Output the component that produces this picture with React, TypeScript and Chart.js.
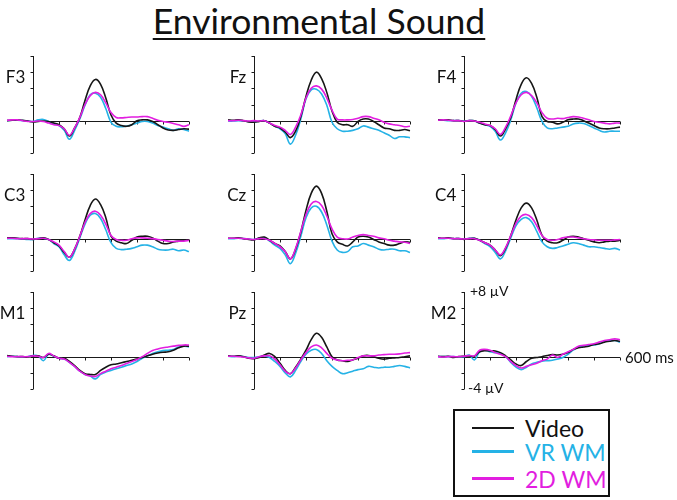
import React, { useEffect, useRef } from "react";
import { Chart, registerables } from "chart.js";

Chart.register(...registerables);

// ---------- data ----------
const TIMES_MS = [-100, -80, -60, -40, -20, 0, 20, 40, 60, 80, 100, 120, 140, 160, 180, 200, 220, 240, 260, 280, 300, 320, 340, 360, 380, 400, 420, 440, 460, 480, 500, 520, 540, 560, 580, 600];
const Y_TICKS_UV = [-4, -2, 0, 2, 4, 6, 8];
const X_TICKS_MS = [100, 200, 300, 400, 500, 600];
const SERIES_NAMES = ["Video", "VR WM", "2D WM"];
const ELECTRODES = ["F3", "Fz", "F4", "C3", "Cz", "C4", "M1", "Pz", "M2"];

const F3_VIDEO = [0, 0.05, 0.1, 0.05, -0.05, -0.15, -0.1, -0.05, -0.1, -0.3, -0.5, -1.0, -1.9, -0.9, 0.4, 2.5, 4.3, 5.1, 4.5, 2.8, 0.7, -0.3, -0.6, -0.7, -0.5, 0.0, 0.1, 0.1, -0.1, -0.5, -0.9, -1.15, -1.2, -1.1, -1.0, -1.05];
const F3_VR = [0, 0.05, 0.05, 0, -0.05, -0.1, 0.1, 0.15, -0.1, -0.4, -0.6, -1.2, -2.3, -1.2, 0.2, 1.9, 3.2, 3.4, 2.9, 1.5, -0.2, -0.7, -0.75, -0.65, -0.5, -0.3, -0.1, -0.1, -0.3, -0.6, -0.8, -1.0, -1.2, -1.0, -1.1, -1.3];
const F3_2D = [0.05, 0.1, 0.1, 0, -0.1, -0.1, -0.05, -0.1, -0.3, -0.5, -0.6, -1.0, -1.8, -0.9, 0.4, 2.0, 3.1, 3.5, 3.2, 2.2, 1.0, 0.4, 0.35, 0.4, 0.45, 0.45, 0.5, 0.5, 0.3, 0.05, -0.1, -0.2, -0.35, -0.5, -0.7, -0.5];

const FZ_VIDEO = [0.1, 0.05, 0.1, 0, -0.15, -0.2, -0.1, 0, -0.3, -0.7, -0.9, -1.4, -2.1, -1.3, 0.5, 3.0, 5.0, 6.0, 5.2, 3.5, 1.2, -0.2, -0.5, -0.5, -0.7, -0.1, 0.2, 0.2, -0.1, -0.5, -0.9, -1.0, -1.2, -1.2, -1.1, -1.25];
const FZ_VR = [-0.05, -0.05, 0, -0.05, -0.1, -0.15, -0.05, 0, -0.3, -0.7, -1.0, -1.6, -2.9, -1.8, 0.2, 2.7, 3.8, 3.9, 3.3, 1.9, -0.2, -1.0, -1.3, -1.3, -1.2, -1.0, -0.65, -0.8, -1.0, -1.2, -1.5, -1.8, -2.2, -2.0, -2.0, -2.1];
const FZ_2D = [0, 0, 0.05, 0, -0.05, 0, -0.05, 0, -0.3, -0.6, -0.8, -1.2, -1.7, -0.8, 0.7, 2.8, 4.0, 4.3, 3.9, 2.8, 1.3, 0.2, 0.1, 0.1, 0.15, 0.3, 0.5, 0.5, 0.3, 0.1, -0.2, -0.4, -0.5, -0.6, -0.75, -0.7];

const F4_VIDEO = [0.1, 0.1, 0.1, 0, 0, -0.1, 0, 0, -0.3, -0.5, -0.6, -1.1, -1.9, -1.0, 0.4, 2.6, 4.5, 5.3, 4.6, 2.9, 0.5, -0.1, -0.2, -0.4, -0.2, 0.1, 0.2, 0.2, 0.0, -0.3, -0.6, -0.9, -1.0, -1.0, -0.9, -0.8];
const F4_VR = [0.05, 0.05, 0, 0, 0, -0.05, 0, 0, -0.3, -0.5, -0.7, -1.3, -2.4, -1.5, 0.1, 2.2, 3.4, 3.6, 3.0, 1.6, -0.1, -0.9, -1.0, -0.9, -0.8, -0.7, -0.4, -0.3, -0.35, -0.6, -0.9, -1.2, -1.4, -1.3, -1.3, -1.3];
const F4_2D = [0.05, 0.1, 0.05, 0, 0, -0.1, 0, -0.05, -0.2, -0.4, -0.6, -1.0, -1.7, -0.8, 0.6, 2.2, 3.2, 3.5, 3.1, 2.2, 1.0, 0.3, 0.2, 0.3, 0.25, 0.4, 0.5, 0.45, 0.3, 0.1, -0.1, -0.2, -0.3, -0.4, -0.3, -0.3];

const C3_VIDEO = [0.1, 0.1, 0.05, 0, 0, -0.1, 0, 0.1, -0.1, -0.5, -0.9, -1.7, -2.3, -1.3, 0.3, 2.3, 4.1, 4.9, 4.2, 2.6, 0.3, -0.3, -0.5, -0.6, -0.2, 0.2, 0.3, 0.3, 0.1, -0.3, -0.6, -0.6, -0.4, -0.3, -0.2, -0.15];
const C3_VR = [0, 0, 0, -0.05, -0.1, -0.1, 0.05, 0.05, -0.1, -0.6, -1.0, -2.0, -2.7, -1.6, 0.1, 1.8, 2.9, 3.1, 2.5, 1.1, -0.5, -1.2, -1.35, -1.3, -1.2, -1.0, -0.8, -0.8, -1.0, -1.3, -1.4, -1.4, -1.3, -1.5, -1.4, -1.6];
const C3_2D = [0.05, 0.05, 0, 0, 0, -0.05, 0, 0.05, -0.1, -0.4, -0.8, -1.6, -2.3, -1.3, 0.3, 2.0, 3.1, 3.4, 2.9, 1.8, 0.4, -0.1, -0.2, -0.2, 0.0, 0.1, 0.1, 0.05, 0.0, -0.1, -0.2, -0.3, -0.35, -0.3, -0.3, -0.2];

const CZ_VIDEO = [0.05, 0.05, 0.1, 0, -0.1, -0.15, 0.1, 0.2, -0.2, -0.6, -0.9, -1.6, -2.5, -1.3, 0.8, 3.5, 5.6, 6.5, 5.6, 3.4, 0.6, -0.4, -0.7, -0.9, -0.4, 0.2, 0.3, 0.2, -0.1, -0.4, -0.6, -0.8, -0.8, -0.6, -0.4, -0.45];
const CZ_VR = [0, 0, 0.05, 0, -0.05, -0.1, 0.05, 0.1, -0.3, -0.8, -1.2, -2.0, -3.1, -1.8, 0.3, 2.6, 3.8, 4.0, 3.3, 1.7, -0.3, -1.4, -1.7, -1.6, -1.0, -0.9, -0.6, -0.8, -1.0, -1.3, -1.4, -1.3, -1.3, -1.5, -1.5, -1.7];
const CZ_2D = [0.05, 0.05, 0.05, 0, -0.05, -0.1, 0, 0, -0.2, -0.6, -1.0, -1.6, -2.5, -1.2, 0.9, 3.0, 4.3, 4.6, 4.1, 2.8, 1.2, 0.2, 0.0, -0.05, 0.2, 0.4, 0.5, 0.4, 0.3, 0.1, 0.0, -0.2, -0.3, -0.4, -0.45, -0.6];

const C4_VIDEO = [0.1, 0.05, 0.1, 0, 0, -0.1, 0, 0.05, -0.2, -0.5, -0.8, -1.4, -2.1, -1.2, 0.4, 2.3, 3.8, 4.4, 3.8, 2.3, 0.4, -0.3, -0.5, -0.5, -0.2, 0.2, 0.3, 0.2, 0.0, -0.2, -0.4, -0.5, -0.4, -0.3, -0.3, -0.2];
const C4_VR = [0, 0, 0.05, 0, 0, -0.05, 0.05, 0.05, -0.2, -0.6, -1.0, -1.7, -2.5, -1.5, 0.1, 1.6, 2.4, 2.6, 2.1, 0.9, -0.4, -1.0, -1.2, -1.1, -0.9, -0.7, -0.5, -0.6, -0.8, -1.0, -1.0, -1.1, -1.2, -1.3, -1.2, -1.4];
const C4_2D = [0.05, 0.05, 0.05, 0, 0, -0.05, 0, 0, -0.2, -0.5, -0.8, -1.4, -2.0, -1.1, 0.4, 1.9, 2.8, 3.0, 2.6, 1.6, 0.4, -0.1, -0.2, -0.1, 0.1, 0.2, 0.2, 0.1, 0.0, -0.1, -0.15, -0.2, -0.2, -0.2, -0.15, -0.1];

const M1_VIDEO = [0.15, 0.05, 0, 0, -0.05, 0.1, 0.1, -0.1, 0.3, 0.1, -0.2, -0.2, -0.6, -1.1, -1.7, -2.1, -2.2, -2.2, -1.7, -1.3, -1.0, -0.9, -0.75, -0.6, -0.45, -0.3, -0.1, 0.1, 0.3, 0.45, 0.55, 0.6, 0.8, 1.1, 1.3, 1.3];
const M1_VR = [0, 0.05, 0, -0.05, 0, 0.15, 0.1, -0.5, 0.3, 0.05, -0.2, -0.3, -0.7, -1.2, -1.8, -2.2, -2.4, -2.75, -2.2, -1.9, -1.7, -1.5, -1.3, -1.1, -0.9, -0.6, -0.2, 0.1, 0.4, 0.6, 0.75, 0.8, 0.9, 1.2, 1.3, 1.2];
const M1_2D = [0.05, 0, 0, 0, 0, 0.1, 0.05, -0.1, 0.4, 0.1, -0.2, -0.3, -0.7, -1.2, -1.8, -2.2, -2.4, -2.45, -2.1, -1.8, -1.5, -1.3, -1.1, -0.85, -0.6, -0.35, 0.0, 0.4, 0.75, 0.95, 1.1, 1.2, 1.3, 1.4, 1.45, 1.45];

const PZ_VIDEO = [0.1, 0.05, 0.1, 0, -0.2, -0.25, -0.1, 0.2, 0.4, 0.0, -0.8, -1.7, -2.1, -1.3, -0.3, 0.8, 2.1, 2.9, 2.4, 1.2, 0.0, -0.4, -0.5, -0.6, -0.4, -0.2, 0.1, 0.15, 0.0, -0.2, -0.3, -0.2, -0.15, -0.1, 0.0, 0.1];
const PZ_VR = [0.05, 0, 0.05, 0, -0.1, -0.1, 0, 0.1, -0.1, -0.6, -1.2, -2.0, -2.5, -1.7, -0.6, 0.3, 0.8, 0.9, 0.4, -0.5, -1.2, -1.7, -2.1, -2.0, -1.8, -1.6, -1.5, -1.2, -1.3, -1.4, -1.3, -1.3, -1.2, -1.1, -1.2, -1.4];
const PZ_2D = [0.05, 0.05, 0, -0.05, -0.15, -0.2, 0, 0.1, 0.1, -0.3, -1.0, -1.8, -2.1, -1.4, -0.4, 0.5, 1.2, 1.45, 1.1, 0.4, -0.2, -0.4, -0.5, -0.45, -0.4, -0.1, 0.1, 0.1, 0.1, 0.2, 0.25, 0.3, 0.3, 0.35, 0.45, 0.5];

const M2_VIDEO = [0.05, 0, 0.05, -0.1, 0, 0.05, 0.1, 0.05, 0.6, 0.75, 0.7, 0.7, 0.5, 0.1, -0.4, -0.9, -1.1, -0.6, -0.2, -0.1, 0.0, 0.15, 0.25, 0.2, 0.3, 0.5, 0.9, 1.1, 1.2, 1.3, 1.5, 1.6, 1.8, 1.9, 2.0, 1.9];
const M2_VR = [0, 0, 0, 0, -0.05, 0, 0.2, -0.4, 0.6, 0.8, 0.6, 0.5, 0.4, 0.0, -0.7, -1.3, -1.6, -1.3, -0.9, -0.7, -0.55, -0.5, -0.45, -0.3, -0.1, 0.3, 0.8, 1.2, 1.3, 1.4, 1.45, 1.6, 1.9, 2.0, 2.0, 1.8];
const M2_2D = [0, -0.05, 0, 0, 0, 0.05, 0.15, 0.1, 0.8, 0.9, 0.8, 0.5, 0.3, 0.0, -0.6, -1.1, -1.4, -1.2, -1.0, -0.8, -0.5, -0.3, 0.2, -0.1, 0.3, 0.6, 0.9, 1.3, 1.4, 1.5, 1.6, 1.8, 2.0, 2.1, 2.2, 2.1];

const PANEL_SERIES = [
  [F3_VIDEO, F3_VR, F3_2D],
  [FZ_VIDEO, FZ_VR, FZ_2D],
  [F4_VIDEO, F4_VR, F4_2D],
  [C3_VIDEO, C3_VR, C3_2D],
  [CZ_VIDEO, CZ_VR, CZ_2D],
  [C4_VIDEO, C4_VR, C4_2D],
  [M1_VIDEO, M1_VR, M1_2D],
  [PZ_VIDEO, PZ_VR, PZ_2D],
  [M2_VIDEO, M2_VR, M2_2D],
];

// ---------- layout / style ----------
const COLORS = ["#161616", "#25b2e6", "#e21ee0"];
const DRAW_ORDER = [1, 2, 0];
const AXIS_X = [33.3, 254.3, 464.3];
const ZERO_Y = [121, 239, 356.5];
const PX_PER_MS = 0.26;
const PX_PER_UV = 8.08;
const PAD = 6;
const FONT = "Lato, 'Open Sans', sans-serif";

const axesPlugin = {
  id: "erpAxes",
  beforeDatasetsDraw(chart: any) {
    const { ctx, scales } = chart;
    const x = scales.x;
    const y = scales.y;
    const x0 = Math.round(x.getPixelForValue(0)) + 0.5;
    const y0 = Math.round(y.getPixelForValue(0)) + 0.5;
    ctx.save();
    ctx.strokeStyle = "#1a1a1a";
    ctx.lineWidth = 1;
    ctx.beginPath();
    ctx.moveTo(x0, y.getPixelForValue(8));
    ctx.lineTo(x0, y.getPixelForValue(-4));
    ctx.moveTo(x0, y0);
    ctx.lineTo(x.getPixelForValue(600), y0);
    for (const v of Y_TICKS_UV) {
      const py = Math.round(y.getPixelForValue(v)) + 0.5;
      ctx.moveTo(x0 - 3, py);
      ctx.lineTo(x0, py);
    }
    for (const t of X_TICKS_MS) {
      const px = Math.round(x.getPixelForValue(t)) + 0.5;
      ctx.moveTo(px, y0);
      ctx.lineTo(px, y0 + 3);
    }
    ctx.stroke();
    ctx.restore();
  },
};

export default function App() {
  const refs = useRef<(HTMLCanvasElement | null)[]>([]);

  useEffect(() => {
    const charts: Chart[] = [];
    PANEL_SERIES.forEach((series, i) => {
      const cv = refs.current[i];
      if (!cv) return;
      const ch = new Chart(cv, {
        type: "line",
        data: {
          datasets: series.map((vals, s) => ({
            label: SERIES_NAMES[s],
            data: TIMES_MS.map((t, k) => ({ x: t, y: vals[k] })),
            borderColor: COLORS[s],
            borderWidth: 1.6,
            pointRadius: 0,
            tension: 0.4,
            fill: false,
            order: DRAW_ORDER[s],
            clip: false,
          })),
        },
        options: {
          responsive: false,
          animation: false,
          devicePixelRatio: 1,
          layout: { padding: PAD },
          plugins: { legend: { display: false }, tooltip: { enabled: false } },
          events: [],
          scales: {
            x: { type: "linear", min: -100, max: 600, display: false },
            y: { type: "linear", min: -4, max: 8, display: false },
          },
        },
        plugins: [axesPlugin],
      } as any);
      charts.push(ch);
    });
    return () => charts.forEach((c) => c.destroy());
  }, []);

  const plotW = 700 * PX_PER_MS;
  const plotH = 12 * PX_PER_UV;

  return (
    <div style={{ position: "absolute", left: 0, top: 0, width: 677, height: 500, background: "#fff", fontFamily: FONT, color: "#111" }}>
      <div style={{ position: "absolute", left: 0, width: 638, top: 1, textAlign: "center", fontSize: 35.5, lineHeight: "40px" }}>
        <span style={{ textDecoration: "underline", textDecorationThickness: "1.5px", textUnderlineOffset: "4px" }}>Environmental Sound</span>
      </div>
      {ELECTRODES.map((name, i) => {
        const col = i % 3;
        const row = Math.floor(i / 3);
        const ax = AXIS_X[col];
        const zy = ZERO_Y[row];
        const left = ax - 100 * PX_PER_MS - PAD;
        const top = zy - 8 * PX_PER_UV - PAD;
        return (
          <React.Fragment key={name}>
            <canvas
              ref={(el) => { refs.current[i] = el; }}
              width={Math.round(plotW + 2 * PAD)}
              height={Math.round(plotH + 2 * PAD)}
              style={{ position: "absolute", left, top, width: Math.round(plotW + 2 * PAD), height: Math.round(plotH + 2 * PAD) }}
            />
            <div style={{ position: "absolute", right: 677 - (ax - 8), top: zy - 45, transform: "translateY(-50%)", fontSize: 17, lineHeight: 1 }}>{name}</div>
          </React.Fragment>
        );
      })}
      <div style={{ position: "absolute", left: 470, top: 291, transform: "translateY(-50%)", fontSize: 14, lineHeight: 1 }}>+8 µV</div>
      <div style={{ position: "absolute", left: 468, top: 388, transform: "translateY(-50%)", fontSize: 14, lineHeight: 1 }}>-4 µV</div>
      <div style={{ position: "absolute", left: 625, top: 357, transform: "translateY(-50%)", fontSize: 15, lineHeight: 1 }}>600 ms</div>
      <div style={{ position: "absolute", left: 453, top: 409, width: 153, height: 84, border: "2px solid #111" }} />
      {SERIES_NAMES.map((n, s) => {
        const cy = [428, 451.5, 478.5][s];
        return (
          <React.Fragment key={n}>
            <div style={{ position: "absolute", left: 472, width: 42, top: cy - 1.25, height: 2.5, background: COLORS[s] }} />
            <div style={{ position: "absolute", left: 525, top: cy, transform: "translateY(-50%)", fontSize: 23, lineHeight: 1, color: s === 0 ? "#111" : COLORS[s] }}>{n}</div>
          </React.Fragment>
        );
      })}
    </div>
  );
}
